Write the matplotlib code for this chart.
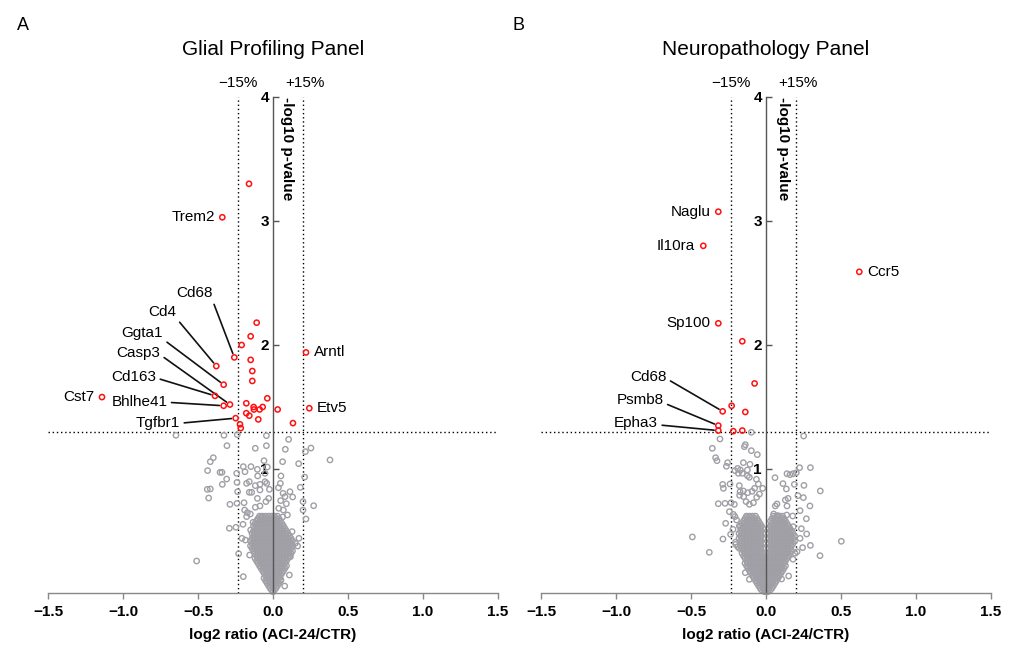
import matplotlib
matplotlib.use("Agg")
import matplotlib.pyplot as plt
import numpy as np

plt.rcParams['font.family'] = ['Liberation Sans', 'DejaVu Sans']

# ---------------- data ----------------
x_ticks = [-1.5, -1.0, -0.5, 0.0, 0.5, 1.0, 1.5]
x_ticklabels = ['\u22121.5', '\u22121.0', '\u22120.5', '0.0', '0.5', '1.0', '1.5']
y_ticks = [1, 2, 3, 4]
y_ticklabels = ['1', '2', '3', '4']
fc_lo = np.log2(0.85)
fc_hi = np.log2(1.15)
p_thr = -np.log10(0.05)

panel_titles = ['Glial Profiling Panel', 'Neuropathology Panel']
panel_letters = ['A', 'B']

# ---- Panel A (Glial) ----
A_genes = ['Trem2', 'Cd68', 'Cd4', 'Ggta1', 'Casp3', 'Cd163', 'Cst7', 'Bhlhe41', 'Tgfbr1', 'Arntl', 'Etv5']
A_gene_x = [-0.338, -0.258, -0.378, -0.329, -0.287, -0.387, -1.14, -0.329, -0.249, 0.22, 0.242]
A_gene_y = [3.03, 1.90, 1.83, 1.68, 1.52, 1.59, 1.58, 1.51, 1.41, 1.94, 1.49]

A_sig_x = [-0.16, -0.109, -0.149, -0.209, -0.149, -0.138, -0.138, -0.038, -0.178, -0.129,
           -0.069, -0.089, -0.127, 0.031, -0.178, -0.158, -0.098, -0.22, -0.215, 0.133]
A_sig_y = [3.30, 2.18, 2.07, 2.00, 1.88, 1.79, 1.71, 1.57, 1.53, 1.50,
           1.50, 1.48, 1.48, 1.48, 1.45, 1.43, 1.40, 1.36, 1.33, 1.37]

A_gray_x = [-0.647, -0.327, -0.238, -0.044, 0.104, -0.307, -0.118, -0.044, 0.082, 0.216,
            0.253, -0.398, -0.418, -0.198, -0.147, -0.060, 0.064, 0.171, 0.380, -0.436,
            -0.353, -0.340, -0.242, -0.187, -0.104, -0.038, -0.053, 0.053, 0.211, -0.309,
            -0.338, -0.240, -0.176, -0.158, -0.102, -0.053, -0.042, -0.087, -0.438, -0.418,
            -0.429, -0.236, -0.158, -0.142, -0.118, -0.087, -0.024, 0.036, 0.113, 0.182,
            0.049, -0.287, -0.193, -0.240, -0.104, -0.029, -0.047, -0.087, 0.067, 0.080,
            0.131, 0.051, 0.089, 0.200, 0.271, 0.200, 0.220, -0.189, -0.171, -0.176,
            -0.151, -0.118, 0.038, 0.069, 0.096, 0.064, -0.291, -0.247, -0.200, -0.133,
            -0.104, -0.078, 0.127, 0.173, -0.207, -0.184, -0.149, 0.149, 0.164, 0.116,
            -0.229, -0.156, -0.198, -0.509, 0.078, 0.109, 0.053]
A_gray_y = [1.272, 1.272, 1.277, 1.269, 1.239, 1.188, 1.167, 1.188, 1.159, 1.140,
            1.169, 1.091, 1.059, 1.019, 1.019, 1.067, 1.059, 1.043, 1.073, 0.987,
            0.973, 0.973, 0.965, 0.978, 0.997, 1.016, 0.965, 0.944, 0.935, 0.919,
            0.876, 0.892, 0.884, 0.898, 0.944, 0.898, 0.884, 0.876, 0.836, 0.839,
            0.766, 0.817, 0.812, 0.812, 0.866, 0.831, 0.836, 0.849, 0.817, 0.852,
            0.884, 0.715, 0.728, 0.723, 0.763, 0.763, 0.737, 0.702, 0.804, 0.777,
            0.774, 0.745, 0.720, 0.737, 0.704, 0.669, 0.597, 0.669, 0.648, 0.616,
            0.637, 0.691, 0.683, 0.669, 0.629, 0.613, 0.522, 0.530, 0.554, 0.570,
            0.589, 0.616, 0.495, 0.441, 0.441, 0.427, 0.508, 0.401, 0.379, 0.293,
            0.317, 0.306, 0.132, 0.258, 0.056, 0.145, 0.105]

# dense core of non-significant proteins (rows: -log10 p, list of log2 ratios)
A_core_rows = [
    (0.62, [-0.09, -0.07, -0.05, -0.03, -0.01, 0.01, 0.03]),
    (0.60, [-0.10, -0.08, -0.06, -0.04, -0.02, 0.00, 0.02, 0.04]),
    (0.58, [-0.11, -0.09, -0.07, -0.05, -0.03, -0.01, 0.01, 0.03, 0.05]),
    (0.56, [-0.12, -0.10, -0.08, -0.06, -0.04, -0.02, 0.00, 0.02, 0.04, 0.06]),
    (0.54, [-0.13, -0.11, -0.09, -0.07, -0.05, -0.03, -0.01, 0.01, 0.03, 0.05, 0.07]),
    (0.52, [-0.12, -0.10, -0.08, -0.06, -0.04, -0.02, 0.00, 0.02, 0.04, 0.06, 0.08]),
    (0.50, [-0.13, -0.11, -0.09, -0.07, -0.05, -0.03, -0.01, 0.01, 0.03, 0.05, 0.07, 0.09]),
    (0.48, [-0.14, -0.12, -0.10, -0.08, -0.06, -0.04, -0.02, 0.00, 0.02, 0.04, 0.06, 0.08, 0.10]),
    (0.46, [-0.13, -0.11, -0.09, -0.07, -0.05, -0.03, -0.01, 0.01, 0.03, 0.05, 0.07, 0.09, 0.11]),
    (0.44, [-0.14, -0.12, -0.10, -0.08, -0.06, -0.04, -0.02, 0.00, 0.02, 0.04, 0.06, 0.08, 0.10, 0.12]),
    (0.42, [-0.15, -0.13, -0.11, -0.09, -0.07, -0.05, -0.03, -0.01, 0.01, 0.03, 0.05, 0.07, 0.09, 0.11, 0.13]),
    (0.40, [-0.14, -0.12, -0.10, -0.08, -0.06, -0.04, -0.02, 0.00, 0.02, 0.04, 0.06, 0.08, 0.10, 0.12]),
    (0.38, [-0.15, -0.13, -0.11, -0.09, -0.07, -0.05, -0.03, -0.01, 0.01, 0.03, 0.05, 0.07, 0.09, 0.11, 0.13]),
    (0.36, [-0.14, -0.12, -0.10, -0.08, -0.06, -0.04, -0.02, 0.00, 0.02, 0.04, 0.06, 0.08, 0.10, 0.12]),
    (0.34, [-0.13, -0.11, -0.09, -0.07, -0.05, -0.03, -0.01, 0.01, 0.03, 0.05, 0.07, 0.09, 0.11, 0.13]),
    (0.32, [-0.12, -0.10, -0.08, -0.06, -0.04, -0.02, 0.00, 0.02, 0.04, 0.06, 0.08, 0.10, 0.12]),
    (0.30, [-0.11, -0.09, -0.07, -0.05, -0.03, -0.01, 0.01, 0.03, 0.05, 0.07, 0.09, 0.11]),
    (0.28, [-0.12, -0.10, -0.08, -0.06, -0.04, -0.02, 0.00, 0.02, 0.04, 0.06, 0.08, 0.10]),
    (0.26, [-0.11, -0.09, -0.07, -0.05, -0.03, -0.01, 0.01, 0.03, 0.05, 0.07, 0.09]),
    (0.24, [-0.10, -0.08, -0.06, -0.04, -0.02, 0.00, 0.02, 0.04, 0.06, 0.08]),
    (0.22, [-0.09, -0.07, -0.05, -0.03, -0.01, 0.01, 0.03, 0.05, 0.07, 0.09]),
    (0.20, [-0.08, -0.06, -0.04, -0.02, 0.00, 0.02, 0.04, 0.06, 0.08]),
    (0.18, [-0.07, -0.05, -0.03, -0.01, 0.01, 0.03, 0.05, 0.07]),
    (0.16, [-0.06, -0.04, -0.02, 0.00, 0.02, 0.04, 0.06]),
    (0.14, [-0.05, -0.03, -0.01, 0.01, 0.03, 0.05]),
    (0.12, [-0.06, -0.04, -0.02, 0.00, 0.02, 0.04]),
    (0.10, [-0.05, -0.03, -0.01, 0.01, 0.03, 0.05]),
    (0.08, [-0.04, -0.02, 0.00, 0.02, 0.04]),
    (0.06, [-0.03, -0.01, 0.01, 0.03]),
    (0.04, [-0.02, 0.00, 0.02]),
    (0.025, [-0.01, 0.01]),
    (0.01, [0.00]),
]

# ---- Panel B (Neuropathology) ----
B_genes = ['Naglu', 'Il10ra', 'Sp100', 'Cd68', 'Psmb8', 'Epha3', 'Ccr5']
B_gene_x = [-0.318, -0.418, -0.318, -0.289, -0.318, -0.318, 0.622]
B_gene_y = [3.075, 2.80, 2.175, 1.465, 1.35, 1.31, 2.59]

B_sig_x = [-0.158, -0.076, -0.229, -0.138, -0.218, -0.158]
B_sig_y = [2.03, 1.69, 1.51, 1.46, 1.305, 1.31]

B_gray_x = [-0.098, 0.251, -0.307, -0.358, -0.336, -0.327, -0.138, -0.144, -0.098, -0.058,
            -0.256, -0.264, -0.189, -0.207, -0.171, -0.151, -0.124, -0.107, -0.184, -0.158,
            -0.124, -0.111, -0.064, 0.060, 0.140, 0.160, 0.180, 0.202, 0.224, 0.296,
            0.113, 0.136, 0.189, 0.253, 0.362, -0.289, -0.284, -0.240, -0.178, -0.173,
            -0.151, -0.122, -0.093, -0.051, -0.022, -0.076, -0.318, -0.273, -0.233, -0.211,
            -0.244, -0.218, -0.176, -0.149, -0.133, -0.111, -0.084, -0.062, -0.044, 0.073,
            0.062, 0.129, 0.147, 0.140, 0.213, 0.249, 0.293, 0.051, 0.078, 0.138,
            0.178, 0.227, 0.269, -0.207, -0.196, -0.269, -0.220, -0.236, -0.178, -0.151,
            -0.129, 0.078, 0.116, 0.156, 0.182, 0.236, 0.271, 0.227, 0.296, 0.244,
            -0.287, -0.202, -0.189, -0.178, -0.491, -0.378, 0.502, 0.360, 0.207, 0.193,
            -0.138, -0.111, 0.151, 0.104, 0.071, 0.093, 0.180, 0.138, -0.204]
B_gray_y = [1.296, 1.266, 1.242, 1.167, 1.091, 1.067, 1.196, 1.180, 1.148, 1.116,
            1.051, 1.022, 1.005, 0.987, 0.992, 1.051, 0.992, 1.038, 0.965, 0.965,
            0.946, 0.933, 0.917, 0.930, 0.962, 0.954, 0.962, 0.970, 1.011, 1.011,
            0.882, 0.839, 0.876, 0.868, 0.823, 0.876, 0.844, 0.879, 0.866, 0.817,
            0.823, 0.809, 0.820, 0.879, 0.844, 0.844, 0.720, 0.723, 0.728, 0.715,
            0.656, 0.634, 0.788, 0.777, 0.737, 0.715, 0.728, 0.772, 0.798, 0.718,
            0.702, 0.750, 0.763, 0.702, 0.785, 0.769, 0.702, 0.637, 0.624, 0.629,
            0.621, 0.664, 0.599, 0.616, 0.589, 0.562, 0.513, 0.473, 0.540, 0.530,
            0.616, 0.556, 0.570, 0.522, 0.535, 0.519, 0.476, 0.441, 0.384, 0.366,
            0.435, 0.392, 0.374, 0.360, 0.452, 0.328, 0.417, 0.301, 0.333, 0.320,
            0.164, 0.110, 0.137, 0.113, 0.172, 0.199, 0.272, 0.320, 0.409]

B_core_rows = [
    (0.62, [-0.13, -0.11, -0.09, -0.07, 0.05, 0.07, 0.09, 0.11]),
    (0.60, [-0.14, -0.12, -0.10, -0.08, -0.06, 0.04, 0.06, 0.08, 0.10, 0.12]),
    (0.58, [-0.15, -0.13, -0.11, -0.09, -0.07, -0.05, 0.03, 0.05, 0.07, 0.09, 0.11, 0.13]),
    (0.56, [-0.16, -0.14, -0.12, -0.10, -0.08, -0.06, -0.04, 0.04, 0.06, 0.08, 0.10, 0.12, 0.14]),
    (0.54, [-0.17, -0.15, -0.13, -0.11, -0.09, -0.07, -0.05, -0.03, 0.03, 0.05, 0.07, 0.09, 0.11, 0.13, 0.15]),
    (0.52, [-0.16, -0.14, -0.12, -0.10, -0.08, -0.06, -0.04, -0.02, 0.02, 0.04, 0.06, 0.08, 0.10, 0.12, 0.14, 0.16]),
    (0.50, [-0.17, -0.15, -0.13, -0.11, -0.09, -0.07, -0.05, -0.03, 0.03, 0.05, 0.07, 0.09, 0.11, 0.13, 0.15, 0.17]),
    (0.48, [-0.18, -0.16, -0.14, -0.12, -0.10, -0.08, -0.06, -0.04, -0.02, 0.02, 0.04, 0.06, 0.08, 0.10, 0.12, 0.14, 0.16, 0.18]),
    (0.46, [-0.17, -0.15, -0.13, -0.11, -0.09, -0.07, -0.05, -0.03, 0.03, 0.05, 0.07, 0.09, 0.11, 0.13, 0.15, 0.17, 0.19]),
    (0.44, [-0.18, -0.16, -0.14, -0.12, -0.10, -0.08, -0.06, -0.04, -0.02, 0.02, 0.04, 0.06, 0.08, 0.10, 0.12, 0.14, 0.16, 0.18]),
    (0.42, [-0.17, -0.15, -0.13, -0.11, -0.09, -0.07, -0.05, -0.03, 0.03, 0.05, 0.07, 0.09, 0.11, 0.13, 0.15, 0.17, 0.19]),
    (0.40, [-0.16, -0.14, -0.12, -0.10, -0.08, -0.06, -0.04, -0.02, 0.02, 0.04, 0.06, 0.08, 0.10, 0.12, 0.14, 0.16, 0.18]),
    (0.38, [-0.17, -0.15, -0.13, -0.11, -0.09, -0.07, -0.05, -0.03, 0.03, 0.05, 0.07, 0.09, 0.11, 0.13, 0.15, 0.17]),
    (0.36, [-0.16, -0.14, -0.12, -0.10, -0.08, -0.06, -0.04, -0.02, 0.02, 0.04, 0.06, 0.08, 0.10, 0.12, 0.14, 0.16]),
    (0.34, [-0.15, -0.13, -0.11, -0.09, -0.07, -0.05, -0.03, 0.03, 0.05, 0.07, 0.09, 0.11, 0.13, 0.15, 0.17]),
    (0.32, [-0.16, -0.14, -0.12, -0.10, -0.08, -0.06, -0.04, -0.02, 0.02, 0.04, 0.06, 0.08, 0.10, 0.12, 0.14, 0.16]),
    (0.30, [-0.15, -0.13, -0.11, -0.09, -0.07, -0.05, -0.03, -0.01, 0.01, 0.03, 0.05, 0.07, 0.09, 0.11, 0.13, 0.15]),
    (0.28, [-0.14, -0.12, -0.10, -0.08, -0.06, -0.04, -0.02, 0.00, 0.02, 0.04, 0.06, 0.08, 0.10, 0.12, 0.14]),
    (0.26, [-0.13, -0.11, -0.09, -0.07, -0.05, -0.03, -0.01, 0.01, 0.03, 0.05, 0.07, 0.09, 0.11, 0.13]),
    (0.24, [-0.14, -0.12, -0.10, -0.08, -0.06, -0.04, -0.02, 0.00, 0.02, 0.04, 0.06, 0.08, 0.10, 0.12]),
    (0.22, [-0.13, -0.11, -0.09, -0.07, -0.05, -0.03, -0.01, 0.01, 0.03, 0.05, 0.07, 0.09, 0.11, 0.13]),
    (0.20, [-0.12, -0.10, -0.08, -0.06, -0.04, -0.02, 0.00, 0.02, 0.04, 0.06, 0.08, 0.10, 0.12]),
    (0.18, [-0.11, -0.09, -0.07, -0.05, -0.03, -0.01, 0.01, 0.03, 0.05, 0.07, 0.09, 0.11]),
    (0.16, [-0.10, -0.08, -0.06, -0.04, -0.02, 0.00, 0.02, 0.04, 0.06, 0.08, 0.10]),
    (0.14, [-0.09, -0.07, -0.05, -0.03, -0.01, 0.01, 0.03, 0.05, 0.07, 0.09]),
    (0.12, [-0.08, -0.06, -0.04, -0.02, 0.00, 0.02, 0.04, 0.06, 0.08]),
    (0.10, [-0.07, -0.05, -0.03, -0.01, 0.01, 0.03, 0.05, 0.07]),
    (0.08, [-0.06, -0.04, -0.02, 0.00, 0.02, 0.04, 0.06]),
    (0.06, [-0.05, -0.03, -0.01, 0.01, 0.03, 0.05]),
    (0.04, [-0.04, -0.02, 0.00, 0.02, 0.04]),
    (0.025, [-0.03, -0.01, 0.01, 0.03]),
    (0.01, [-0.01, 0.01]),
]

# ---------------- layout of labels (text positions, data coords) ----------------
A_label_layout = {
    'Trem2': ('side', -0.045), 'Cst7': ('side', -0.05),
    'Arntl': ('side', 0.05), 'Etv5': ('side', 0.05),
    'Cd68': ('line', (-0.525, 2.417), (1.0, 0.0)),
    'Cd4': ('line', (-0.74, 2.264), (1.0, 0.1)),
    'Ggta1': ('line', (-0.871, 2.097), (1.0, 0.05)),
    'Casp3': ('line', (-0.898, 1.938), (1.0, 0.35)),
    'Cd163': ('line', (-0.929, 1.740), (1.0, 0.45)),
    'Bhlhe41': ('line', (-0.891, 1.538), (1.0, 0.5)),
    'Tgfbr1': ('line', (-0.767, 1.369), (1.0, 0.5)),
}
B_label_layout = {
    'Naglu': ('side', -0.05), 'Il10ra': ('side', -0.055), 'Sp100': ('side', -0.05),
    'Ccr5': ('side', 0.05),
    'Cd68': ('line', (-0.785, 1.740), (1.0, 0.4)),
    'Psmb8': ('line', (-0.84, 1.556), (1.0, 0.3)),
    'Epha3': ('line', (-0.867, 1.373), (1.0, 0.35)),
}

GRAY = '#a09fa5'
RED = '#ff1010'


def rows_to_xy(rows):
    xs, ys = [], []
    for yv, xl in rows:
        for xv in xl:
            xs.append(xv)
            ys.append(yv)
    return xs, ys


fig = plt.figure(figsize=(10.16, 6.47), dpi=100)
W, H = 1016.0, 647.0
ax_lefts = [48, 541]

panels = [
    (A_gray_x, A_gray_y, A_core_rows, A_sig_x, A_sig_y, A_genes, A_gene_x, A_gene_y, A_label_layout, 0.092),
    (B_gray_x, B_gray_y, B_core_rows, B_sig_x, B_sig_y, B_genes, B_gene_x, B_gene_y, B_label_layout, 0.112),
]

for i, (gx, gy, core, sx, sy, genes, gex, gey, layout, ylab_x) in enumerate(panels):
    ax = fig.add_axes([ax_lefts[i] / W, 1 - 593 / H, 450 / W, 496 / H])
    ax.set_xlim(-1.5, 1.5)
    ax.set_ylim(0, 4)

    cx, cy = rows_to_xy(core)
    ax.scatter(list(gx) + cx, list(gy) + cy, s=15, facecolors='none', edgecolors=GRAY,
               linewidths=1.0, clip_on=False, zorder=2)
    ax.scatter(list(sx) + list(gex), list(sy) + list(gey), s=14, facecolors='none',
               edgecolors=RED, linewidths=1.1, clip_on=False, zorder=4)

    dot = (0, (1, 2))
    ax.plot([fc_lo, fc_lo], [0, 4], ls=dot, color='black', lw=1.0, zorder=1)
    ax.plot([fc_hi, fc_hi], [0, 4], ls=dot, color='black', lw=1.0, zorder=1)
    ax.plot([-1.5, 1.5], [p_thr, p_thr], ls=dot, color='black', lw=1.0, zorder=1, clip_on=False)

    ax.text(fc_lo, 4.08, '\u221215%', ha='center', va='baseline', fontsize=11)
    ax.text(fc_hi + 0.01, 4.08, '+15%', ha='center', va='baseline', fontsize=11)

    for s in ['top', 'right']:
        ax.spines[s].set_visible(False)
    ax.spines['left'].set_position(('data', 0))
    ax.spines['left'].set_bounds(0, 4)
    ax.spines['left'].set_color('#555555')
    ax.spines['left'].set_linewidth(1.0)
    ax.spines['bottom'].set_color('#888888')
    ax.spines['bottom'].set_linewidth(1.0)
    ax.spines['bottom'].set_bounds(-1.5, 1.5)

    ax.set_xticks(x_ticks)
    ax.set_xticklabels(x_ticklabels, fontsize=11, fontweight='bold')
    ax.set_yticks(y_ticks)
    ax.set_yticklabels(y_ticklabels, fontsize=11, fontweight='bold')
    ax.tick_params(axis='x', direction='out', length=4, width=1, color='#888888', pad=5)
    ax.tick_params(axis='y', direction='in', length=4, width=1, color='#555555', pad=3)
    ax.set_xlabel('log2 ratio (ACI-24/CTR)', fontsize=11, fontweight='bold', labelpad=6)

    ax.text(ylab_x, 4.0, '-log10 p-value', rotation=270, ha='center', va='top',
            fontsize=11, fontweight='bold')

    for g, px, py in zip(genes, gex, gey):
        lay = layout[g]
        if lay[0] == 'side':
            dx = lay[1]
            ax.text(px + dx, py, g, ha='right' if dx < 0 else 'left', va='center', fontsize=11)
        else:
            tx, ty = lay[1]
            ax.annotate(g, xy=(px, py), xytext=(tx, ty), ha='center', va='center', fontsize=11,
                        arrowprops=dict(arrowstyle='-', color='#111111', lw=1.2,
                                        relpos=lay[2], shrinkA=1, shrinkB=3))

    cxp = (ax_lefts[i] + 225) / W
    fig.text(cxp, 1 - 55 / H, panel_titles[i], ha='center', va='baseline', fontsize=15)

fig.text(17 / W, 1 - 30 / H, panel_letters[0], ha='left', va='baseline', fontsize=13)
fig.text(513 / W, 1 - 30 / H, panel_letters[1], ha='left', va='baseline', fontsize=13)

fig.savefig('out.png', dpi=100)
